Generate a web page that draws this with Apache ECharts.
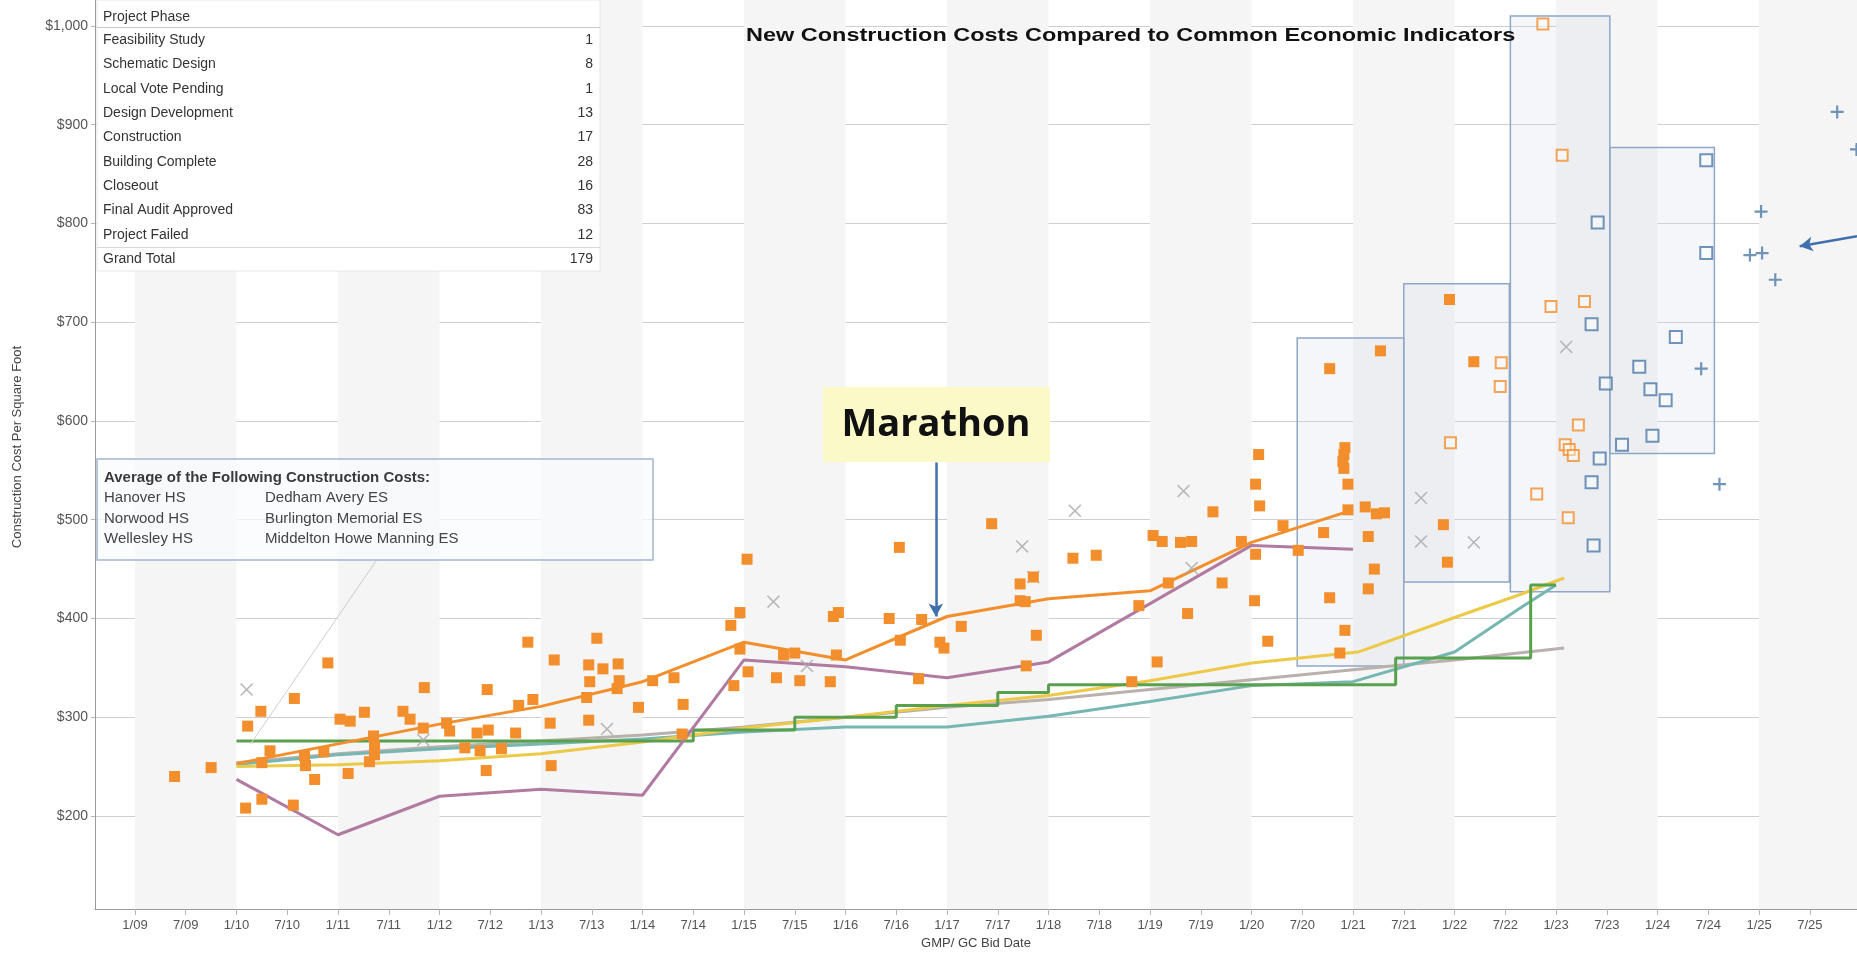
<!DOCTYPE html>
<html><head><meta charset="utf-8">
<script src="https://cdn.jsdelivr.net/npm/echarts@6/dist/echarts.min.js"></script>
<style>html,body{margin:0;padding:0;background:#fff}#c{width:1857px;height:959px}</style>
</head><body><div id="c"></div>
<script>
// ---------- DATA ----------
const xTicks = [2009,2009.5,2010,2010.5,2011,2011.5,2012,2012.5,2013,2013.5,2014,2014.5,2015,2015.5,2016,2016.5,2017,2017.5,2018,2018.5,2019,2019.5,2020,2020.5,2021,2021.5,2022,2022.5,2023,2023.5,2024,2024.5,2025,2025.5];
const yTicks = [200,300,400,500,600,700,800,900,1000];
const stripeYears = [2009,2011,2013,2015,2017,2019,2021,2023,2025];

const phaseNames = ['Feasibility Study','Schematic Design','Local Vote Pending','Design Development','Construction','Building Complete','Closeout','Final Audit Approved','Project Failed'];
const phaseCounts = [1,8,1,13,17,28,16,83,12];
const grandTotal = 179;

const avgHeading = 'Average of the Following Construction Costs:';
const avgColLeft = ['Hanover HS','Norwood HS','Wellesley HS'];
const avgColRight = ['Dedham Avery ES','Burlington Memorial ES','Middelton Howe Manning ES'];

// completed projects (filled orange squares) [date, $/sf]
const completedCosts = [
 [2009.39,240],[2009.75,249],[2010.09,208],[2010.25,217],[2010.11,291],[2010.24,306],[2010.25,254],[2010.33,266],[2010.57,319],[2010.56,211],
 [2010.67,261],[2010.68,251],[2010.77,237],[2010.86,265],[2010.90,355],[2011.02,298],[2011.12,296],[2011.10,243],[2011.26,305],[2011.35,281],
 [2011.36,271],[2011.31,255],[2011.36,262],[2011.64,306],[2011.71,298],[2011.85,330],[2011.84,289],[2012.07,294],[2012.10,286],[2012.25,269],
 [2012.37,284],[2012.40,266],[2012.47,328],[2012.46,246],[2012.48,287],[2012.61,268],[2012.75,284],[2012.78,312],[2012.87,376],[2012.92,318],
 [2013.13,358],[2013.09,294],[2013.10,251],
 [2013.55,380],[2013.47,353],[2013.61,349],[2013.76,354],[2013.48,336],[2013.77,337],[2013.75,329],[2013.45,320],[2013.47,297],[2013.96,310],
 [2014.10,337],[2014.31,340],[2014.40,313],[2014.39,283],[2015.03,460],[2014.96,406],[2014.87,393],[2014.96,369],[2015.04,346],[2014.90,332],
 [2015.32,340],[2015.39,363],[2015.50,365],[2015.55,337],[2015.85,336],[2015.91,363],[2015.88,402],[2015.93,406],[2016.43,400],[2016.53,472],
 [2016.54,378],[2016.75,399],[2016.72,339],[2016.93,376],[2016.97,370],[2017.14,392],[2017.44,496],[2017.72,435],[2017.72,418],[2017.77,417],
 [2017.78,352],[2017.88,383],[2017.85,442],
 [2018.24,461],[2018.47,464],[2018.89,413],[2018.82,336],[2019.07,356],[2019.03,484],[2019.12,478],[2019.30,477],[2019.41,478],[2019.18,436],
 [2019.37,405],[2019.62,508],[2019.71,436],[2019.90,478],[2020.07,566],[2020.04,536],[2020.08,514],[2020.04,465],[2020.03,418],[2020.16,377],
 [2020.31,494],[2020.46,469],[2020.71,487],[2020.77,653],[2020.77,421],[2020.92,573],[2020.91,566],[2020.90,559],[2020.91,552],[2020.95,536],
 [2020.95,510],[2020.92,388],[2020.87,365],[2021.27,671],[2021.12,513],[2021.23,506],[2021.31,507],[2021.15,483],[2021.21,450],[2021.15,430],
 [2021.89,495],[2021.93,457],[2021.95,723],[2022.19,660]
];
// projects in construction/design (hollow orange squares)
const activeCosts = [[2021.96,578],[2022.87,1002],[2023.06,869],[2022.46,659],[2022.45,635],[2022.95,716],[2023.28,721],[2023.22,596],[2023.09,576],[2023.13,571],[2023.17,565],[2022.81,526],[2023.12,502]];
// projects in planning (hollow blue squares)
const plannedCosts = [[2024.48,864],[2024.48,770],[2023.41,801],[2023.35,698],[2023.49,638],[2024.18,685],[2023.82,655],[2023.93,632],[2024.08,621],[2023.95,585],[2023.65,576],[2023.43,562],[2023.35,538],[2023.37,474]];
// feasibility / future (blue plus)
const futureCosts = [[2025.77,913],[2025.96,875],[2025.02,812],[2024.91,768],[2025.03,770],[2025.16,743],[2024.43,653],[2024.61,536]];
// failed projects (gray x)
const failedCosts = [[2010.10,328],[2011.84,277],[2013.65,288],[2015.29,417],[2015.62,352],[2017.74,473],[2017.85,442],[2018.26,509],[2019.33,529],[2019.41,451],[2021.67,522],[2021.67,478],[2022.19,477],[2023.10,675]];

// indicator / average lines
const avgConstruction = [[2010.0,253],[2011.0,273],[2012.0,293],[2013.0,311],[2014.0,336],[2015.0,376],[2016.0,358],[2017.0,402],[2018.0,420],[2019.0,428],[2020.0,477],[2021.0,510]];
const avgSelected = [[2010.0,237],[2011.0,181],[2012.0,220],[2013.0,227],[2014.0,221],[2015.0,358],[2016.0,351],[2017.0,340],[2018.0,356],[2019.0,415],[2020.0,474],[2021.0,470]];
const stepIndex = [[2010.0,276],[2014.5,287],[2015.5,300],[2016.5,312],[2017.5,325],[2018.0,333],[2021.42,360],[2022.75,434],[2023.0,434]];
const tealIndex = [[2010.0,252],[2011.0,262],[2012.0,268],[2013.0,273],[2014.0,278],[2015.0,285],[2016.0,290],[2017.0,290],[2018.0,301],[2019.0,316],[2020.0,332],[2021.0,336],[2022.0,366],[2022.64,410],[2023.0,434]];
const yellowIndex = [[2010.0,250],[2011.0,252],[2012.0,256],[2013.0,263],[2014.0,275],[2015.0,289],[2016.0,300],[2017.0,312],[2018.0,322],[2019.0,337],[2020.0,355],[2021.05,366],[2022.0,401],[2022.64,424],[2023.08,441]];
const grayIndex = [[2010.0,254],[2011.0,263],[2012.0,270],[2013.0,276],[2014.0,282],[2015.0,290],[2016.0,300],[2017.0,310],[2018.0,318],[2019.0,328],[2020.0,338],[2021.0,348],[2022.0,358],[2023.08,370]];

// highlighted ranges [x0, y0, x1, y1]
const rangeBoxes = [[2020.45,352,2021.5,684],[2021.5,437,2022.54,739],[2022.55,427,2023.53,1010],[2023.53,567,2024.56,877]];
// annotation arrows [[x0,y0],[x1,y1]]
const marathonArrow = [[2016.89,558],[2016.89,402]];
const rightArrow = [[2025.965,787],[2025.40,777]];
const connector = [[2011.38,459],[2010.14,273]];

// ---------- CHART ----------
const FONT = "'Liberation Sans', Arial, sans-serif";
const plusPath = 'path://M5,0H7V5H12V7H7V12H5V7H0V5H5Z';
const xPath = 'path://M1,0L6,5L11,0L12,1L7,6L12,11L11,12L6,7L1,12L0,11L5,6L0,1Z';

const chart = echarts.init(document.getElementById('c'), null, {renderer:'canvas'});

function lineSeries(data, color, extra) {
  return Object.assign({type:'line', data, showSymbol:false, symbol:'none', z:3,
    lineStyle:{color, width:3}, itemStyle:{color}, silent:true}, extra||{});
}

const graphic = [];
// table
graphic.push({type:'rect', shape:{x:97,y:0,width:503,height:271}, style:{fill:'#fff', stroke:'#e6e6e6', lineWidth:1}, z:50});
graphic.push({type:'text', x:103, y:17, style:{text:'Project Phase', fill:'#333', font:'14px '+FONT, textVerticalAlign:'middle', verticalAlign:'middle'}, z:51});
graphic.push({type:'line', shape:{x1:97,y1:27.5,x2:600,y2:27.5}, style:{stroke:'#c8c8c8', lineWidth:1}, z:51});
phaseNames.forEach((n,i)=>{
  const y = 40 + i*24.35;
  graphic.push({type:'text', x:103, y, style:{text:n, fill:'#333', font:'14px '+FONT, textVerticalAlign:'middle', verticalAlign:'middle'}, z:51});
  graphic.push({type:'text', x:593, y, style:{text:String(phaseCounts[i]), fill:'#333', font:'14px '+FONT, textAlign:'right', align:'right', textVerticalAlign:'middle', verticalAlign:'middle'}, z:51});
});
graphic.push({type:'line', shape:{x1:97,y1:247.5,x2:600,y2:247.5}, style:{stroke:'#d8d8d8', lineWidth:1}, z:51});
graphic.push({type:'text', x:103, y:259.5, style:{text:'Grand Total', fill:'#333', font:'14px '+FONT, textVerticalAlign:'middle', verticalAlign:'middle'}, z:51});
graphic.push({type:'text', x:593, y:259.5, style:{text:String(grandTotal), fill:'#333', font:'14px '+FONT, textAlign:'right', align:'right', textVerticalAlign:'middle', verticalAlign:'middle'}, z:51});
// title (horizontally stretched like the original)
graphic.push({type:'text', x:746, y:36, scaleX:1.235, scaleY:1, style:{text:'New Construction Costs Compared to Common Economic Indicators', fill:'#111', font:'bold 19px '+FONT, textVerticalAlign:'middle', verticalAlign:'middle'}, z:51});
// y-axis title
graphic.push({type:'text', x:17, y:447, rotation:Math.PI/2, style:{text:'Construction Cost Per Square Foot', fill:'#444', font:'13px '+FONT, textAlign:'center', align:'center', textVerticalAlign:'middle', verticalAlign:'middle'}, z:51});
// average legend box
graphic.push({type:'rect', shape:{x:97,y:459,width:556,height:101}, style:{fill:'rgba(250,251,253,0.7)', stroke:'#a3b5cf', lineWidth:1.5}, z:40});
graphic.push({type:'text', x:104, y:478, style:{text:avgHeading, fill:'#3a3a3a', font:'bold 15px '+FONT, textVerticalAlign:'middle', verticalAlign:'middle'}, z:41});
avgColLeft.forEach((t,i)=>{
  graphic.push({type:'text', x:104, y:498+i*20.5, style:{text:t, fill:'#444', font:'15px '+FONT, textVerticalAlign:'middle', verticalAlign:'middle'}, z:41});
  graphic.push({type:'text', x:265, y:498+i*20.5, style:{text:avgColRight[i], fill:'#444', font:'15px '+FONT, textVerticalAlign:'middle', verticalAlign:'middle'}, z:41});
});
// Marathon callout
graphic.push({type:'rect', shape:{x:823,y:387,width:227,height:75}, style:{fill:'#fcf9c9'}, z:40});
graphic.push({type:'text', x:936, y:425, style:{text:'Marathon', fill:'#111', font:"bold 38px 'Open Sans', "+FONT, textAlign:'center', align:'center', textVerticalAlign:'middle', verticalAlign:'middle'}, z:41});

const option = {
  animation:false,
  backgroundColor:'#fff',
  grid:{left:95, right:0, top:0, bottom:50, containLabel:false},
  xAxis:{type:'value', min:2008.606, max:2025.965,
    axisLine:{show:true, lineStyle:{color:'#9a9a9a', width:1}},
    axisTick:{show:true, length:6, lineStyle:{color:'#b5b5b5'}, customValues:xTicks},
    axisLabel:{customValues:xTicks, color:'#555', fontSize:13, fontFamily:FONT, margin:10,
      formatter:v=>{const y=Math.floor(v+1e-6); const m=(v-y)>0.25?'7':'1'; return m+'/'+String(y%100).padStart(2,'0');}},
    splitLine:{show:false},
    name:'GMP/ GC Bid Date', nameLocation:'middle', nameGap:28,
    nameTextStyle:{color:'#444', fontSize:13, fontFamily:FONT}
  },
  yAxis:{type:'value', min:105.8, max:1026.3,
    axisLine:{show:true, lineStyle:{color:'#9a9a9a', width:1}},
    axisTick:{show:true, length:4, lineStyle:{color:'#b5b5b5'}, customValues:yTicks},
    axisLabel:{customValues:yTicks, color:'#555', fontSize:14, fontFamily:FONT, margin:7,
      formatter:v=>'$'+Number(v).toLocaleString('en-US')},
    splitLine:{show:true, lineStyle:{color:'#cfcfcf', width:1}}
  },
  graphic: graphic,
  series:[
    {type:'scatter', data:[], z:0, silent:true,
      markArea:{silent:true, itemStyle:{color:'#f5f5f5'}, data: stripeYears.map(y=>[{xAxis:y},{xAxis:y+1}])},
      markLine:{silent:true, symbol:['none','none'], label:{show:false}, lineStyle:{color:'#cdcdcd', width:1, type:'solid'},
        data:[[{coord:connector[0]},{coord:connector[1]}]]}
    },
    {type:'scatter', data:[], z:1, silent:true,
      markArea:{silent:true, itemStyle:{color:'rgba(205,216,232,0.22)', borderColor:'#8fa7c7', borderWidth:1.5},
        data: rangeBoxes.map(b=>[{coord:[b[0],b[1]]},{coord:[b[2],b[3]]}])}
    },
    lineSeries(grayIndex,'#bab0ac'),
    lineSeries(tealIndex,'#76b7b2'),
    lineSeries(yellowIndex,'#edc948'),
    lineSeries(stepIndex,'#59a14f',{step:'end'}),
    lineSeries(avgSelected,'#b07aa1'),
    lineSeries(avgConstruction,'#f28e2b'),
    {type:'scatter', data:failedCosts, symbol:xPath, symbolSize:13, z:4, silent:true, itemStyle:{color:'#a8a8a8'}},
    {type:'scatter', data:completedCosts, symbol:'rect', symbolSize:11, z:5, silent:true, itemStyle:{color:'#f28e2b', opacity:1}},
    {type:'scatter', data:activeCosts, symbol:'rect', symbolSize:11, z:5, silent:true, itemStyle:{color:'rgba(255,255,255,0.5)', borderColor:'#f28e2b', borderWidth:2}},
    {type:'scatter', data:plannedCosts, symbol:'rect', symbolSize:12, z:5, silent:true, itemStyle:{color:'rgba(255,255,255,0.5)', borderColor:'#4e79a7', borderWidth:2}},
    {type:'scatter', data:futureCosts, symbol:plusPath, symbolSize:13, z:5, silent:true, itemStyle:{color:'#4e79a7'}},
    {type:'scatter', data:[], z:6, silent:true,
      markLine:{silent:true, symbol:['none','arrow'], symbolSize:[11,13], label:{show:false},
        lineStyle:{color:'#3f70ad', width:2.5, type:'solid'},
        data:[[{coord:marathonArrow[0]},{coord:marathonArrow[1]}],[{coord:rightArrow[0]},{coord:rightArrow[1]}]]}
    }
  ]
};
chart.setOption(option);
</script>
</body></html>
